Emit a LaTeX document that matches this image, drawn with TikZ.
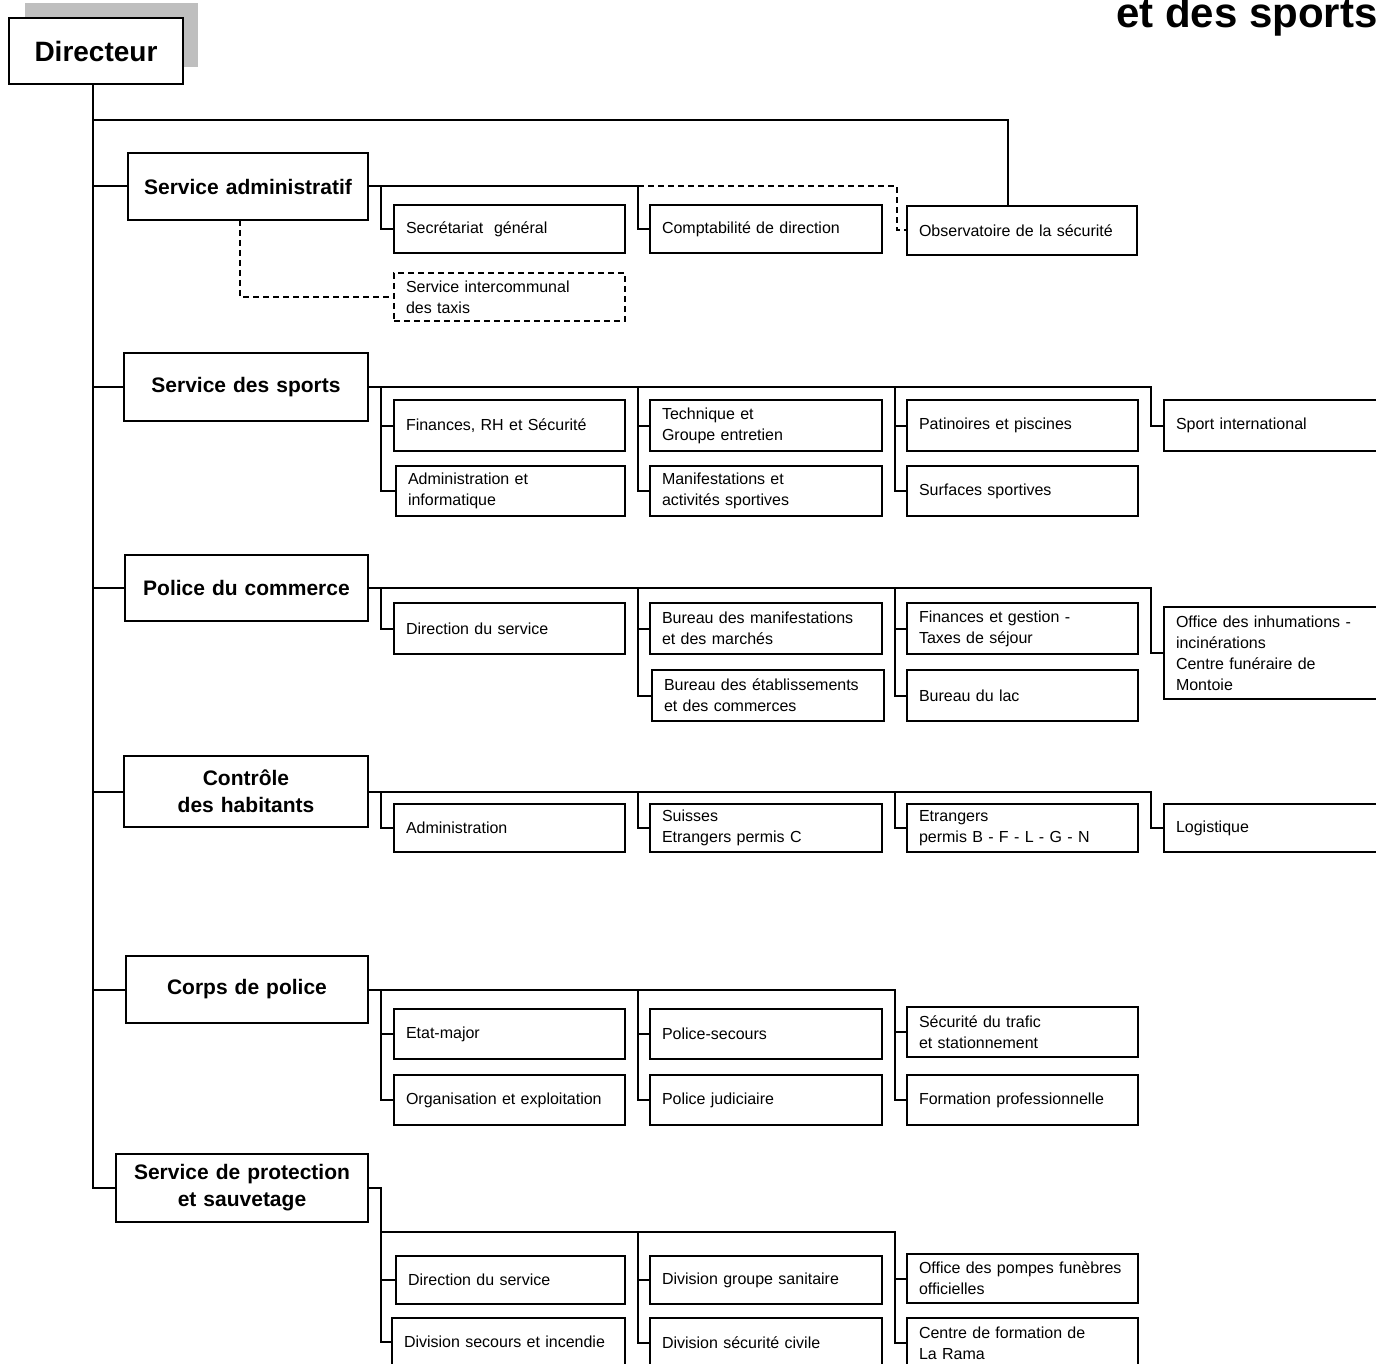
\documentclass[tikz,border=0pt]{standalone}
\usepackage{fontspec}
\setmainfont{Liberation Sans}
\begin{document}
\newcommand\orgbox[7]{%
  \pgfmathsetmacro\bw{(#5-#3)*0.5}%
  \pgfmathsetmacro\bh{(#6-#4)*0.5}%
  \pgfmathsetmacro\tw{(#5-#3)*0.5-12}%
  \node[#1, anchor=north west, minimum width=\bw pt, minimum height=\bh pt, text width=\tw pt] (#2) at (#3,#4) {#7};}
\begin{tikzpicture}[x=0.5pt,y=-0.5pt,
  sub/.style={draw, line width=1pt, fill=white, inner xsep=6pt, inner ysep=1pt, align=left, outer sep=0pt,
    font=\fontsize{8}{10.5}\selectfont},
  subdash/.style={sub, dashed, dash pattern=on 3pt off 2pt},
  head/.style={draw, line width=1pt, fill=white, inner xsep=6pt, inner ysep=1pt, align=center, outer sep=0pt,
    font=\fontsize{10.5}{13.5}\selectfont\bfseries},
  conn/.style={line width=1pt},
  dconn/.style={line width=1pt, dash pattern=on 3pt off 2pt}]
\useasboundingbox (0,0) rectangle (1376,1364);
% title (clipped at top, as in the reference)
\node[anchor=base east, inner sep=0pt, font=\fontsize{21}{25}\selectfont\bfseries] (title) at (1378,28) {et des sports};
% column lines
\coordinate (c1) at (381,0);
\coordinate (c2) at (638,0);
\coordinate (c3) at (895,0);
\coordinate (c4) at (1151,0);
% Directeur
\fill[gray!50] (25,3) rectangle (198,67);
\node[draw, line width=1pt, fill=white, anchor=north west, minimum width=87pt, minimum height=33pt, inner sep=0pt,
  font=\fontsize{14}{16}\selectfont\bfseries] (dir) at (8,17) {Directeur};
% heads
\orgbox{head}{sa}{128}{153}{368}{220}{Service administratif}
\orgbox{head}{ss}{124}{353}{368}{421}{Service des sports}
\orgbox{head}{pc}{125}{555}{368}{621}{Police du commerce}
\orgbox{head}{ch}{124}{756}{368}{827}{Contrôle\\des habitants}
\orgbox{head}{cp}{126}{956}{368}{1023}{Corps de police}
\orgbox{head}{sp}{116}{1154}{368}{1222}{Service de protection\\et sauvetage}
% section 1
\orgbox{sub}{sec}{394}{205}{625}{253}{Secrétariat\ \ général}
\orgbox{sub}{cmpt}{650}{205}{882}{253}{Comptabilité de direction}
\orgbox{sub}{obs}{907}{206}{1137}{255}{Observatoire de la sécurité}
\orgbox{subdash}{taxi}{394}{273}{625}{321}{Service intercommunal\\des taxis}
% section 2
\orgbox{sub}{fin}{394}{400}{625}{451}{Finances, RH et Sécurité}
\orgbox{sub}{adm}{396}{466}{625}{516}{Administration et\\informatique}
\orgbox{sub}{tech}{650}{400}{882}{451}{Technique et\\Groupe entretien}
\orgbox{sub}{manif}{650}{466}{882}{516}{Manifestations et\\activités sportives}
\orgbox{sub}{pat}{907}{400}{1138}{451}{Patinoires et piscines}
\orgbox{sub}{surf}{907}{466}{1138}{516}{Surfaces sportives}
\orgbox{sub}{sint}{1164}{400}{1395}{451}{Sport international}
% section 3
\orgbox{sub}{pcdir}{394}{603}{625}{654}{Direction du service}
\orgbox{sub}{bman}{650}{603}{882}{654}{Bureau des manifestations\\et des marchés}
\orgbox{sub}{betab}{652}{670}{884}{721}{Bureau des établissements\\et des commerces}
\orgbox{sub}{fing}{907}{603}{1138}{654}{Finances et gestion -\\Taxes de séjour}
\orgbox{sub}{lac}{907}{670}{1138}{721}{Bureau du lac}
\orgbox{sub}{inh}{1164}{607}{1395}{699}{Office des inhumations -\\incinérations\\Centre funéraire de\\Montoie}
% section 4
\orgbox{sub}{chadm}{394}{804}{625}{852}{Administration}
\orgbox{sub}{suis}{650}{804}{882}{852}{Suisses\\Etrangers permis C}
\orgbox{sub}{etr}{907}{804}{1138}{852}{Etrangers\\permis B - F - L - G - N}
\orgbox{sub}{log}{1164}{804}{1395}{852}{Logistique}
% section 5
\orgbox{sub}{em}{394}{1009}{625}{1059}{Etat-major}
\orgbox{sub}{org}{394}{1075}{625}{1125}{Organisation et exploitation}
\orgbox{sub}{psec}{650}{1009}{882}{1059}{Police-secours}
\orgbox{sub}{pjud}{650}{1075}{882}{1125}{Police judiciaire}
\orgbox{sub}{traf}{907}{1007}{1138}{1057}{Sécurité du trafic\\et stationnement}
\orgbox{sub}{form}{907}{1075}{1138}{1125}{Formation professionnelle}
% section 6
\orgbox{sub}{pdir}{396}{1256}{625}{1304}{Direction du service}
\orgbox{sub}{dsec}{392}{1318}{625}{1366}{Division secours et incendie}
\orgbox{sub}{dgs}{650}{1256}{882}{1304}{Division groupe sanitaire}
\orgbox{sub}{dsc}{650}{1318}{882}{1368}{Division sécurité civile}
\orgbox{sub}{opf}{907}{1254}{1138}{1303}{Office des pompes funèbres\\officielles}
\orgbox{sub}{cfr}{907}{1318}{1138}{1368}{Centre de formation de\\La Rama}
% main trunk
\coordinate (tl) at (93,120);
\draw[conn] (dir.south -| tl) -- (tl |- sp.west) -- (sp.west);
\draw[conn] (tl) -| ([xshift=-7pt]obs.north);
\foreach \h in {sa,ss,pc,ch,cp}{\draw[conn] (tl |- \h.west) -- (\h.west);}
% section 1 connectors
\draw[conn] (sa.east) -- (c2 |- sa.east) |- (cmpt.west);
\draw[conn] (c1 |- sa.east) |- (sec.west);
\draw[dconn] (c2 |- sa.east) -| ([xshift=-5pt]obs.west) -- (obs.west);
\draw[dconn] ([xshift=-4pt]sa.south) |- (taxi.west);
% section 2
\draw[conn] (ss.east) -- (c4 |- ss.east) |- (sint.west);
\draw[conn] (c1 |- ss.east) |- (adm.west);
\draw[conn] (c1 |- fin.west) -- (fin.west);
\draw[conn] (c2 |- ss.east) |- (manif.west);
\draw[conn] (c2 |- tech.west) -- (tech.west);
\draw[conn] (c3 |- ss.east) |- (surf.west);
\draw[conn] (c3 |- pat.west) -- (pat.west);
% section 3
\draw[conn] (pc.east) -- (c4 |- pc.east) |- (inh.west);
\draw[conn] (c1 |- pc.east) |- (pcdir.west);
\draw[conn] (c2 |- pc.east) |- (betab.west);
\draw[conn] (c2 |- bman.west) -- (bman.west);
\draw[conn] (c3 |- pc.east) |- (lac.west);
\draw[conn] (c3 |- fing.west) -- (fing.west);
% section 4
\draw[conn] (ch.east) -- (c4 |- ch.east) |- (log.west);
\draw[conn] (c1 |- ch.east) |- (chadm.west);
\draw[conn] (c2 |- ch.east) |- (suis.west);
\draw[conn] (c3 |- ch.east) |- (etr.west);
% section 5
\draw[conn] (cp.east) -- (c3 |- cp.east) |- (form.west);
\draw[conn] (c3 |- traf.west) -- (traf.west);
\draw[conn] (c1 |- cp.east) |- (org.west);
\draw[conn] (c1 |- em.west) -- (em.west);
\draw[conn] (c2 |- cp.east) |- (pjud.west);
\draw[conn] (c2 |- psec.west) -- (psec.west);
% section 6
\coordinate (bus6) at (381,1232);
\draw[conn] (sp.east) -| (c1 |- dsec.west) -- (dsec.west);
\draw[conn] (c1 |- pdir.west) -- (pdir.west);
\draw[conn] (bus6) -| (c3 |- cfr.west) -- (cfr.west);
\draw[conn] (c3 |- opf.west) -- (opf.west);
\draw[conn] (c2 |- bus6) |- (dsc.west);
\draw[conn] (c2 |- dgs.west) -- (dgs.west);
\end{tikzpicture}
\end{document}
